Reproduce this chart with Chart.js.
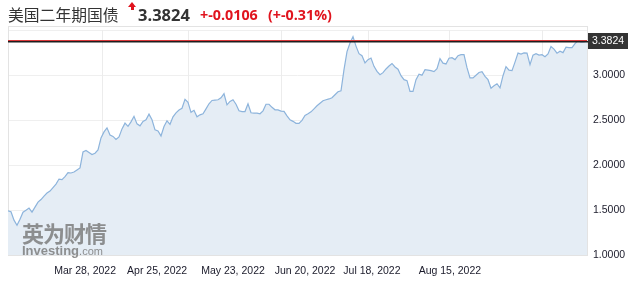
<!DOCTYPE html>
<html>
<head>
<meta charset="utf-8">
<script src="https://cdn.jsdelivr.net/npm/chart.js@4/dist/chart.umd.min.js"></script>
<style>
  body { margin: 0; background: #fff; }
  #wrap { position: relative; width: 630px; height: 286px; }
  #head span { position: absolute; top: 4px; white-space: nowrap; line-height: 22px; }
  .name { left: 8px; font: 15.8px "Noto Sans CJK SC", sans-serif; color: #333; }
  .price { left: 138px; font: bold 16.5px "Open Sans", sans-serif; color: #333; }
  .chg { font: bold 14.3px "Open Sans", sans-serif; color: #e0141e; }
  #arrow { position: absolute; left: 128px; top: 2px; width: 0; height: 0;
           border-left: 4px solid transparent; border-right: 4px solid transparent; border-bottom: 5px solid #e0141e; }
  #arrow:after { content: ""; position: absolute; left: -1.5px; top: 5px; width: 3px; height: 3px; background: #e0141e; }
  #mark { position: absolute; left: 22px; top: 220px; color: #7d7d7d; opacity: 0.85; }
  #mark .cn { font: bold 22px "Noto Sans CJK SC", sans-serif; letter-spacing: -1px; line-height: 24px; }
  #mark .en { font: bold 13px "Liberation Sans", sans-serif; line-height: 13px; }
  #mark .en i { font-style: normal; font-weight: normal; font-size: 11px; }
  canvas { position: absolute; left: 0; top: 0; }
</style>
</head>
<body>
<div id="wrap">
  <canvas id="chart" width="630" height="286"></canvas>
  <div id="head">
    <span class="name">美国二年期国债</span>
    <div id="arrow"></div>
    <span class="price">3.3824</span>
    <span class="chg" style="left:200px">+-0.0106</span>
    <span class="chg" style="left:268px">(+-0.31%)</span>
  </div>
  <div id="mark"><div class="cn">英为财情</div><div class="en">Investing<i>.com</i></div></div>
</div>
<script>
// tick labels and where they sit (point index)
const dateLabels = ['Mar 28, 2022', 'Apr 25, 2022', 'May 23, 2022', 'Jun 20, 2022', 'Jul 18, 2022', 'Aug 15, 2022'];
const dateIdx = [25.7, 49.7, 75, 99, 121.3, 147.3];
const gridIdx = [31.3, 60, 91, 120, 147, 178];

const lastPrice = 3.3824;

// 2-year yield
const yields = [
  1.491, 1.480, 1.387, 1.331, 1.398, 1.476, 1.498, 1.521, 1.476, 1.532,
  1.588, 1.616, 1.654, 1.688, 1.710, 1.749, 1.788, 1.844, 1.838, 1.870,
  1.916, 1.911, 1.922, 1.944, 1.967, 2.145, 2.162, 2.139, 2.117, 2.131,
  2.167, 2.301, 2.368, 2.413, 2.334, 2.318, 2.284, 2.312, 2.401, 2.465,
  2.429, 2.479, 2.541, 2.457, 2.435, 2.485, 2.502, 2.565, 2.502, 2.390,
  2.379, 2.323, 2.427, 2.491, 2.452, 2.535, 2.580, 2.610, 2.630, 2.730,
  2.697, 2.585, 2.608, 2.535, 2.557, 2.569, 2.624, 2.680, 2.717, 2.721,
  2.725, 2.747, 2.792, 2.669, 2.706, 2.725, 2.675, 2.602, 2.594, 2.594,
  2.680, 2.580, 2.576, 2.576, 2.569, 2.602, 2.675, 2.675, 2.641, 2.613,
  2.613, 2.599, 2.596, 2.546, 2.502, 2.485, 2.463, 2.463, 2.496, 2.551,
  2.569, 2.591, 2.624, 2.658, 2.686, 2.714, 2.725, 2.734, 2.747, 2.780,
  2.814, 2.825, 3.059, 3.260, 3.355, 3.427, 3.321, 3.237, 3.215, 3.134,
  3.171, 3.189, 3.096, 3.040, 3.003, 3.026, 3.067, 3.100, 3.128, 3.089,
  3.065, 2.992, 2.948, 2.937, 2.817, 2.817, 2.948, 3.009, 2.998, 3.059,
  3.054, 3.048, 3.037, 3.070, 3.182, 3.132, 3.123, 3.187, 3.193, 3.171,
  3.215, 3.226, 3.226, 3.081, 2.967, 2.968, 2.998, 3.028, 3.037, 2.984,
  2.948, 2.853, 2.881, 2.903, 2.858, 2.992, 3.093, 3.054, 3.048, 3.143,
  3.243, 3.232, 3.245, 3.243, 3.115, 3.221, 3.237, 3.221, 3.226, 3.204,
  3.234, 3.316, 3.288, 3.243, 3.265, 3.249, 3.310, 3.305, 3.305, 3.349,
  3.382, 3.366, 3.368, 3.3824
];

const points = yields.map((v, i) => ({ x: i, y: v }));
const tickFont = '"Liberation Sans", Arial, sans-serif';

// box, vertical grid lines, last price line and box
const extras = {
  id: 'extras',
  beforeDatasetsDraw(chart) {
    const { ctx, chartArea: a, scales: { x } } = chart;
    ctx.save();
    ctx.strokeStyle = '#ececec';
    ctx.lineWidth = 1;
    gridIdx.forEach(g => {
      const px = Math.round(x.getPixelForValue(g)) + 0.5;
      ctx.beginPath(); ctx.moveTo(px, a.top); ctx.lineTo(px, a.bottom); ctx.stroke();
    });
    ctx.strokeStyle = '#e3e3e3';
    ctx.strokeRect(a.left + 0.5, 26.5, a.right - a.left, a.bottom - 26.5);
    ctx.restore();
  },
  afterDatasetsDraw(chart) {
    const { ctx, chartArea: a, scales: { y } } = chart;
    const py = Math.round(y.getPixelForValue(lastPrice));
    ctx.save();
    ctx.fillStyle = '#1e1e1e';
    ctx.fillRect(a.left, py, a.right - a.left + 2, 1.5);
    ctx.fillStyle = '#d9383a';
    ctx.fillRect(a.left, py - 1, a.right - a.left, 1);
    ctx.fillStyle = '#333';
    ctx.fillRect(a.right + 1, py - 8, 40, 16);
    ctx.fillStyle = '#fff';
    ctx.font = '10.5px ' + tickFont;
    ctx.textBaseline = 'middle';
    ctx.fillText(lastPrice.toFixed(4), a.right + 5, py + 0.5);
    ctx.restore();
  }
};

new Chart(document.getElementById('chart'), {
  type: 'line',
  data: {
    datasets: [{
      data: points,
      borderColor: '#8db4dc',
      borderWidth: 1.2,
      backgroundColor: '#e5edf5',
      fill: 'start',
      pointRadius: 0,
      tension: 0
    }]
  },
  options: {
    responsive: false,
    animation: false,
    layout: { padding: { left: 8, top: 30, right: 0, bottom: 0 } },
    plugins: { legend: { display: false }, tooltip: { enabled: false } },
    scales: {
      x: {
        type: 'linear',
        min: 0,
        max: yields.length - 1,
        afterBuildTicks: s => { s.ticks = dateIdx.map(v => ({ value: v })); },
        afterFit: s => { s.height = 31; },
        grid: { display: false, drawTicks: false },
        border: { display: true, color: '#e2e2e2' },
        ticks: {
          autoSkip: false,
          maxRotation: 0,
          padding: 10,
          color: '#1a1a2a',
          font: { family: tickFont, size: 10.5 },
          callback: (v, i) => dateLabels[i]
        }
      },
      y: {
        position: 'right',
        min: 1,
        max: 3.5,
        afterFit: s => { s.width = 43; },
        grid: { color: '#efefef', drawTicks: false },
        border: { display: false },
        ticks: {
          stepSize: 0.5,
          padding: 6,
          color: '#1a1a2a',
          font: { family: tickFont, size: 10.5 },
          callback: v => v === 3.5 ? '' : v.toFixed(4)
        }
      }
    }
  },
  plugins: [extras]
});
</script>
</body>
</html>
